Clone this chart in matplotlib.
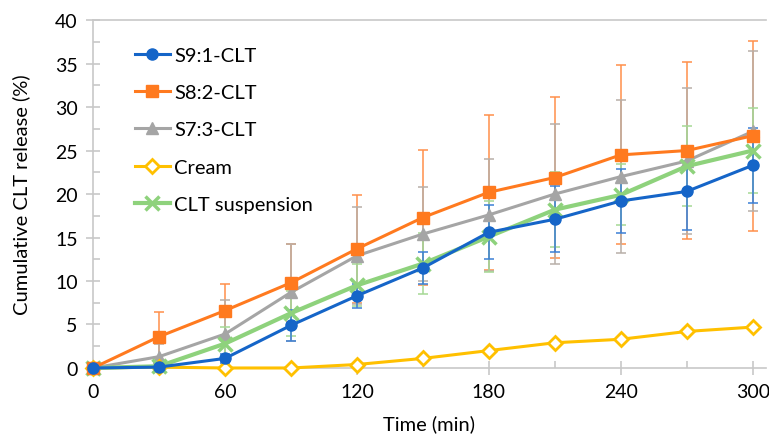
import numpy as np
import matplotlib.pyplot as plt
from matplotlib.ticker import MultipleLocator

# data
time = [0, 30, 60, 90, 120, 150, 180, 210, 240, 270, 300]
s9 = [0, 0.1, 1.1, 4.9, 8.3, 11.5, 15.6, 17.1, 19.2, 20.3, 23.3]
s8 = [0, 3.6, 6.6, 9.8, 13.7, 17.3, 20.2, 21.9, 24.5, 25.0, 26.7]
s7 = [0, 1.3, 3.9, 8.7, 12.9, 15.4, 17.6, 20.0, 22.0, 23.8, 27.2]
cream = [0, 0.1, 0, 0, 0.4, 1.1, 2.0, 2.9, 3.3, 4.2, 4.7]
susp = [0, 0.2, 2.8, 6.3, 9.5, 12.0, 15.1, 18.2, 19.9, 23.2, 25.0]

s9_err = [0, 0.2, 0.5, 1.8, 1.4, 1.8, 3.1, 3.8, 3.7, 4.4, 4.3]
s8_err = [0, 2.8, 3.1, 4.5, 6.2, 7.8, 8.9, 9.2, 10.3, 10.2, 10.9]
s7_err = [0, 1.4, 3.9, 5.6, 5.6, 5.4, 6.4, 8.1, 8.8, 8.4, 9.2]
susp_err = [0, 0.3, 1.9, 2.6, 2.4, 3.5, 4.1, 4.3, 3.5, 4.6, 4.9]

plt.rcParams['font.family'] = ['Lato', 'DejaVu Sans']

fig = plt.figure(figsize=(7.69, 4.39), dpi=100)
ax = fig.add_axes([0.121, 0.1595, 0.875, 0.7925])

# error bars (lighter tints, drawn underneath)
ax.errorbar(time, s8, yerr=s8_err, fmt='none', ecolor='#FF8F4A', elinewidth=1.1, capsize=3.5, capthick=1.1, zorder=1)
ax.errorbar(time, s7, yerr=s7_err, fmt='none', ecolor='#B8AFA8', elinewidth=1.1, capsize=3.5, capthick=1.1, zorder=1)
ax.errorbar(time, susp, yerr=susp_err, fmt='none', ecolor='#A6D895', elinewidth=1.1, capsize=3.5, capthick=1.1, zorder=1)
ax.errorbar(time, s9, yerr=s9_err, fmt='none', ecolor='#3C80D6', elinewidth=1.1, capsize=3.5, capthick=1.1, zorder=1)

ax.plot(time, s9, '-o', color='#1565C8', lw=2.2, ms=8, label='S9:1-CLT', zorder=5, clip_on=False)
ax.plot(time, s8, '-s', color='#FF7A1F', lw=2.2, ms=8.5, label='S8:2-CLT', zorder=4, clip_on=False)
ax.plot(time, s7, '-^', color='#A5A5A5', lw=2.2, ms=9, label='S7:3-CLT', zorder=3, clip_on=False)
ax.plot(time, cream, '-D', color='#FFC000', lw=2.2, ms=7.5, mfc='white', mew=2, label='Cream', zorder=3, clip_on=False)
ax.plot(time, susp, '-x', color='#8ED27C', lw=3, ms=9.5, mew=2.5, label='CLT suspension', zorder=3, clip_on=False)

ax.set_xlim(0, 306)
ax.set_ylim(0, 40)
ax.xaxis.set_major_locator(MultipleLocator(60))
ax.xaxis.set_minor_locator(MultipleLocator(30))
ax.yaxis.set_major_locator(MultipleLocator(5))
ax.yaxis.set_minor_locator(MultipleLocator(2.5))

for s in ['left', 'bottom', 'top']:
    ax.spines[s].set_color('#C8C8C8')
    ax.spines[s].set_linewidth(1.2)
ax.spines['right'].set_visible(False)

ax.tick_params(which='major', direction='inout', length=10, color='#C8C8C8', width=1.2, labelsize=14, pad=6)
ax.tick_params(which='minor', direction='in', length=5, color='#C8C8C8', width=1.2)

ax.set_xlabel('Time (min)', fontsize=14.5, labelpad=10)
ax.set_ylabel('Cumulative CLT release (%)', fontsize=14.5, labelpad=18)

ax.legend(loc='upper left', bbox_to_anchor=(0.035, 0.975), frameon=False, fontsize=14.5,
          handlelength=1.75, handletextpad=0.2, labelspacing=1.0)

fig.savefig('out.png', dpi=100)
